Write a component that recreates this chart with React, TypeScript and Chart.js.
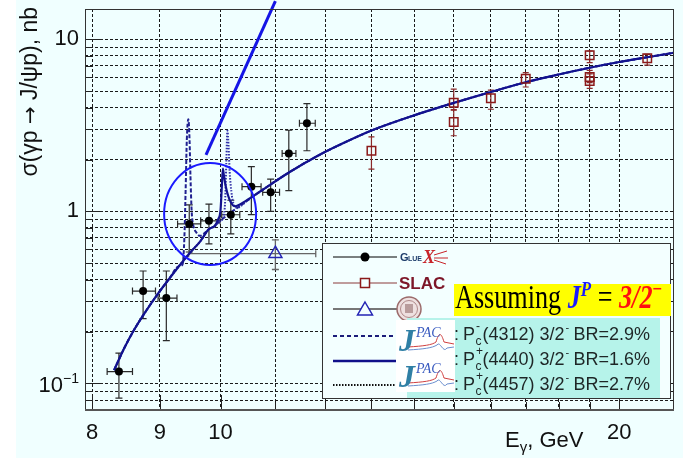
import React, { useEffect, useRef } from 'react';
import { Chart, registerables } from 'chart.js';

Chart.register(...registerables);

const SANS = '"Liberation Sans", Arial, Helvetica, sans-serif';
const SERIF = '"Liberation Serif", "Times New Roman", Times, serif';
const ARROW_FONT = '"DejaVu Sans", "Liberation Sans", sans-serif';
const PAGE_BG = '#f0ffff';

// Log-axis grid values and the ones that carry labels
const xGridValues = [8, 9, 10, 11, 12, 13, 14, 15, 16, 17, 18, 19, 20];
const xLabelValues = [8, 9, 10, 20];
const xMajorValues = [8, 9, 10, 20];
const yGridValues = [0.08, 0.09, 0.1, 0.2, 0.3, 0.4, 0.5, 0.6, 0.7, 0.8, 0.9, 1, 2, 3, 4, 5, 6, 7, 8, 9, 10];
const yLabelValues = [1, 10];
const yMajorValues = [0.1, 1, 10];

// GlueX: Eγ (GeV) with bin edges, σ (nb) with errors
const gluexE = [8.38, 8.74, 9.10, 9.47, 9.80, 10.18, 10.55, 10.91, 11.26, 11.62];
const gluexELo = [8.21, 8.58, 8.97, 9.28, 9.66, 10.02, 10.38, 10.76, 11.13, 11.47];
const gluexEHi = [8.58, 8.93, 9.27, 9.66, 9.99, 10.34, 10.73, 11.08, 11.40, 11.79];
const gluexSigma = [0.117, 0.344, 0.313, 0.845, 0.88, 0.955, 1.39, 1.29, 2.17, 3.25];
const gluexSigmaLo = [0.082, 0.238, 0.177, 0.58, 0.647, 0.74, 0.957, 1.0, 1.32, 2.25];
const gluexSigmaHi = [0.150, 0.45, 0.45, 1.09, 1.10, 1.16, 1.82, 1.54, 2.96, 4.23];

// SLAC
const slacE = [13.0, 15.0, 15.0, 16.0, 17.0, 19.0, 19.0, 19.0, 21.0];
const slacSigma = [2.25, 4.28, 3.31, 4.54, 5.9, 8.07, 6.03, 5.72, 7.75];
const slacSigmaLo = [1.76, 3.87, 2.75, 3.92, 5.28, 7.31, 5.6, 5.19, 7.08];
const slacSigmaHi = [2.71, 5.13, 3.9, 5.06, 6.4, 8.55, 6.6, 6.3, 8.17];

// Cornell
const cornellE = [11.0];
const cornellELo = [9.46];
const cornellEHi = [11.8];
const cornellSigma = [0.567];
const cornellSigmaLo = [0.459];
const cornellSigmaHi = [0.683];

// JPAC model curves: common near-threshold part
const headE = [8.31, 8.45, 8.60, 8.75, 8.95, 9.15];
const headSigma = [0.1193, 0.158, 0.2034, 0.2518, 0.3246, 0.4073];

// common high-energy part
const tailE = [10.70, 11.27, 11.87, 12.29, 13.0, 14.0, 15.0, 16.0, 17.0, 18.0, 19.0, 20.0, 21.0, 22.0];
const tailSigma = [1.296, 1.687, 2.123, 2.426, 2.948, 3.612, 4.267, 4.942, 5.627, 6.243, 6.836, 7.376, 7.864, 8.353];

// P_c(4440), solid
const pc4440E = [9.35, 9.50, 9.65, 9.80, 9.90, 9.96, 10.00, 10.02, 10.04, 10.06, 10.09, 10.13, 10.18, 10.25, 10.45];
const pc4440Sigma = [0.504, 0.584, 0.667, 0.7885, 0.822, 0.90, 1.02, 1.35, 1.77, 1.60, 1.40, 1.24, 1.13, 1.07, 1.15];

// P_c(4312), dashed
const pc4312E = [9.30, 9.36, 9.39, 9.41, 9.43, 9.455, 9.475, 9.49, 9.51, 9.54, 9.58, 9.65, 9.73, 9.80, 9.90, 10.0, 10.12, 10.25, 10.45];
const pc4312Sigma = [0.48, 0.49, 0.70, 1.3, 2.6, 3.43, 2.6, 1.6, 1.0, 0.82, 0.76, 0.72, 0.75, 0.7885, 0.822, 0.8833, 0.9506, 1.023, 1.138];

// P_c(4457), dotted
const pc4457E = [9.35, 9.50, 9.65, 9.80, 9.90, 10.0, 10.05, 10.08, 10.10, 10.12, 10.14, 10.16, 10.19, 10.23, 10.30, 10.45];
const pc4457Sigma = [0.504, 0.584, 0.667, 0.7885, 0.822, 0.8833, 0.92, 1.15, 1.9, 2.94, 2.4, 1.7, 1.3, 1.1, 1.05, 1.138];

// Highlight pointer and circle around the resonance region
const pointerE = [9.75, 11.0];
const pointerSigma = [2.13, 16.65];
const circleE = 9.82;
const circleSigma = 0.966;

// Legend texts
const pcMasses = ['4312', '4440', '4457'];
const pcCharges = ['-', '+', '+'];
const pcBranching = ['2.9', '1.6', '2.7'];

const pts = (xs: number[], ys: number[]) => xs.map((x, i) => ({ x, y: ys[i] }));

const pageBackground = {
  id: 'pageBackground',
  beforeDraw(chart: any) {
    const { ctx, width, height } = chart;
    ctx.save();
    ctx.fillStyle = '#ffffff';
    ctx.fillRect(0, 0, width, height);
    ctx.fillStyle = PAGE_BG;
    ctx.fillRect(16, 0, width - 16, height);
    ctx.restore();
  },
};

const errorBars = {
  id: 'errorBars',
  beforeDatasetsDraw(chart: any) {
    const { ctx } = chart;
    const xs = chart.scales.x;
    const ys = chart.scales.y;
    chart.data.datasets.forEach((ds: any) => {
      const eb = ds.errorBars;
      if (!eb) return;
      ctx.save();
      ctx.strokeStyle = eb.color;
      ctx.lineWidth = eb.width;
      ds.data.forEach((p: any, i: number) => {
        const px = xs.getPixelForValue(p.x);
        const py = ys.getPixelForValue(p.y);
        const c = eb.cap;
        ctx.beginPath();
        if (eb.yLo) {
          const y1 = ys.getPixelForValue(eb.yLo[i]);
          const y2 = ys.getPixelForValue(eb.yHi[i]);
          ctx.moveTo(px, y1); ctx.lineTo(px, y2);
          ctx.moveTo(px - c, y1); ctx.lineTo(px + c, y1);
          ctx.moveTo(px - c, y2); ctx.lineTo(px + c, y2);
        }
        if (eb.xLo) {
          const x1 = xs.getPixelForValue(eb.xLo[i]);
          const x2 = xs.getPixelForValue(eb.xHi[i]);
          ctx.moveTo(x1, py); ctx.lineTo(x2, py);
          ctx.moveTo(x1, py - c); ctx.lineTo(x1, py + c);
          ctx.moveTo(x2, py - c); ctx.lineTo(x2, py + c);
        }
        ctx.stroke();
      });
      ctx.restore();
    });
  },
};

const frameAndTitles = {
  id: 'frameAndTitles',
  afterDatasetsDraw(chart: any) {
    const { ctx, chartArea: a } = chart;
    const xs = chart.scales.x;
    const ys = chart.scales.y;
    ctx.save();
    // inner ticks
    ctx.strokeStyle = '#222';
    ctx.lineWidth = 1;
    ctx.setLineDash([]);
    ctx.beginPath();
    yGridValues.forEach((v) => {
      const y = Math.round(ys.getPixelForValue(v)) + 0.5;
      const len = yMajorValues.includes(v) ? 18 : 8;
      ctx.moveTo(a.left, y); ctx.lineTo(a.left + len, y);
    });
    xGridValues.forEach((v) => {
      const x = Math.round(xs.getPixelForValue(v)) + 0.5;
      const len = xMajorValues.includes(v) ? 15 : 8;
      ctx.moveTo(x, a.bottom); ctx.lineTo(x, a.bottom - len);
    });
    ctx.stroke();
    // frame
    ctx.strokeStyle = '#333';
    ctx.lineWidth = 1;
    ctx.strokeRect(a.left + 0.5, a.top + 0.5, a.right - a.left - 1, a.bottom - a.top);
    ctx.strokeStyle = '#555';
    ctx.lineWidth = 2;
    ctx.beginPath();
    ctx.moveTo(a.left, a.bottom); ctx.lineTo(a.right, a.bottom);
    ctx.stroke();

    // highlight circle
    const cx = xs.getPixelForValue(circleE);
    const cy = ys.getPixelForValue(circleSigma);
    ctx.strokeStyle = '#1a1aff';
    ctx.lineWidth = 2;
    ctx.beginPath();
    ctx.ellipse(cx, cy, 46, 51, 0, 0, Math.PI * 2);
    ctx.stroke();

    // 10^-1 label
    const y01 = ys.getPixelForValue(0.1);
    ctx.fillStyle = '#111';
    ctx.font = `22px ${SANS}`;
    ctx.textAlign = 'right';
    ctx.textBaseline = 'alphabetic';
    ctx.fillText('10', 63, y01 + 9);
    ctx.font = `14px ${SANS}`;
    ctx.textAlign = 'left';
    ctx.fillText('\u22121', 63, y01 - 0);

    // y title, written bottom-to-top and ending near the top edge
    ctx.save();
    ctx.translate(37, 7);
    ctx.rotate(-Math.PI / 2);
    ctx.textAlign = 'left';
    const titleParts = [
      { t: '\u03c3(\u03b3p ', f: `23px ${SANS}` },
      { t: '\u2192', f: `21px ${ARROW_FONT}` },
      { t: ' J/\u03c8p), nb', f: `23px ${SANS}` },
    ];
    let total = 0;
    titleParts.forEach((p) => { ctx.font = p.f; total += ctx.measureText(p.t).width; });
    let tpos = -total;
    titleParts.forEach((p) => {
      ctx.font = p.f;
      ctx.fillText(p.t, tpos, 0);
      tpos += ctx.measureText(p.t).width;
    });
    ctx.restore();

    // x title
    ctx.textAlign = 'left';
    ctx.font = `22px ${SANS}`;
    let tx = 505;
    ctx.fillText('E', tx, 447);
    tx += ctx.measureText('E').width;
    ctx.font = `15px ${SANS}`;
    ctx.fillText('\u03b3', tx, 452);
    tx += ctx.measureText('\u03b3').width;
    ctx.font = `22px ${SANS}`;
    ctx.fillText(', GeV', tx, 447);
    ctx.restore();
  },
};

function legendLine(ctx: any, y: number, color: string, width: number, dash: number[]) {
  ctx.save();
  ctx.strokeStyle = color;
  ctx.lineWidth = width;
  ctx.setLineDash(dash);
  ctx.beginPath();
  ctx.moveTo(333, y); ctx.lineTo(397, y);
  ctx.stroke();
  ctx.restore();
}

function drawJpacLogo(ctx: any, x: number, y: number) {
  ctx.save();
  ctx.fillStyle = '#ffffff';
  ctx.fillRect(x, y, 59, 36);
  // curves
  ctx.lineWidth = 1;
  ctx.strokeStyle = '#d04040';
  ctx.beginPath();
  ctx.moveTo(x + 12, y + 27);
  ctx.bezierCurveTo(x + 28, y + 26, x + 36, y + 25, x + 40, y + 22);
  ctx.bezierCurveTo(x + 43, y + 12, x + 45, y + 12, x + 48, y + 22);
  ctx.lineTo(x + 58, y + 24);
  ctx.stroke();
  ctx.strokeStyle = '#6a8fcf';
  ctx.beginPath();
  ctx.moveTo(x + 12, y + 30);
  ctx.bezierCurveTo(x + 28, y + 29, x + 36, y + 28, x + 41, y + 25);
  ctx.bezierCurveTo(x + 44, y + 20, x + 47, y + 34, x + 51, y + 28);
  ctx.lineTo(x + 58, y + 27);
  ctx.stroke();
  ctx.fillStyle = '#2f7fa5';
  ctx.font = `italic bold 32px ${SERIF}`;
  ctx.fillText('J', x + 3, y + 31);
  ctx.fillStyle = '#3b5cc0';
  ctx.font = `italic 14px ${SERIF}`;
  ctx.fillText('PAC', x + 20, y + 17);
  ctx.restore();
}

const legendPanel = {
  id: 'legendPanel',
  afterDraw(chart: any) {
    const { ctx } = chart;
    ctx.save();
    ctx.textAlign = 'left';
    ctx.textBaseline = 'alphabetic';
    // box
    ctx.fillStyle = '#f3ffff';
    ctx.fillRect(322, 243, 348, 155);
    ctx.strokeStyle = '#333';
    ctx.lineWidth = 1;
    ctx.strokeRect(322.5, 243.5, 348, 155);

    const rows = [257, 283, 309, 336, 361, 385];
    // GlueX row
    legendLine(ctx, rows[0], '#000', 1, []);
    ctx.fillStyle = '#000';
    ctx.beginPath(); ctx.arc(365, rows[0], 4.5, 0, Math.PI * 2); ctx.fill();
    ctx.fillStyle = '#1d3d6b';
    ctx.font = `bold 11px ${SANS}`;
    ctx.fillText('G', 400, rows[0] + 4);
    ctx.font = `bold 7px ${SANS}`;
    ctx.fillText('LUE', 408, rows[0] + 4);
    ctx.fillStyle = '#c8242a';
    ctx.font = `italic bold 18px ${SERIF}`;
    ctx.fillText('X', 423, rows[0] + 6);
    ctx.strokeStyle = '#c8242a';
    ctx.lineWidth = 1;
    ctx.beginPath();
    ctx.moveTo(434, rows[0] - 2); ctx.lineTo(447, rows[0] - 6);
    ctx.moveTo(434, rows[0] + 1); ctx.lineTo(448, rows[0] + 1);
    ctx.moveTo(434, rows[0] + 3); ctx.lineTo(446, rows[0] + 7);
    ctx.stroke();

    // SLAC row
    legendLine(ctx, rows[1], '#8b3a3a', 1, []);
    ctx.strokeStyle = '#8b1a1a';
    ctx.lineWidth = 1.5;
    ctx.fillStyle = '#f3ffff';
    ctx.fillRect(360.5, rows[1] - 4.5, 9, 9);
    ctx.strokeRect(360.5, rows[1] - 4.5, 9, 9);
    ctx.fillStyle = '#7d1628';
    ctx.font = `bold 17px ${SANS}`;
    ctx.fillText('SLAC', 399, rows[1] + 6);

    // Cornell row
    legendLine(ctx, rows[2], '#777', 2, []);
    ctx.strokeStyle = '#2525b5';
    ctx.lineWidth = 1.5;
    ctx.fillStyle = '#f3ffff';
    ctx.beginPath();
    ctx.moveTo(365, rows[2] - 7);
    ctx.lineTo(372.5, rows[2] + 6);
    ctx.lineTo(357.5, rows[2] + 6);
    ctx.closePath();
    ctx.fill();
    ctx.stroke();
    // seal
    ctx.fillStyle = '#eee0e0';
    ctx.strokeStyle = '#9b6b6b';
    ctx.lineWidth = 1.5;
    ctx.beginPath(); ctx.arc(409, rows[2], 12, 0, Math.PI * 2); ctx.fill(); ctx.stroke();
    ctx.lineWidth = 1;
    ctx.strokeStyle = '#b08a8a';
    ctx.beginPath(); ctx.arc(409, rows[2], 8.5, 0, Math.PI * 2); ctx.stroke();
    ctx.fillStyle = '#b99c9c';
    ctx.fillRect(405, rows[2] - 5, 8, 9);

    // model rows
    ctx.fillStyle = '#b6f3ea';
    ctx.fillRect(407, 318, 253, 80);
    legendLine(ctx, rows[3], '#1c1c7a', 2, [4, 3]);
    legendLine(ctx, rows[4], '#10108a', 2.5, []);
    legendLine(ctx, rows[5], '#111', 2, [1.5, 1.5]);
    drawJpacLogo(ctx, 396, 320);
    drawJpacLogo(ctx, 396, 356);

    const baselines = [340, 365, 390];
    baselines.forEach((b, i) => {
      ctx.fillStyle = '#1e2626';
      ctx.font = `18px ${SANS}`;
      ctx.fillText(':', 454, b);
      let cx = 463;
      ctx.fillText('P', cx, b);
      cx += ctx.measureText('P').width;
      ctx.font = `12px ${SANS}`;
      ctx.fillText('c', cx + 0.5, b + 5);
      ctx.fillText(pcCharges[i], cx + 1, b - 10);
      cx += ctx.measureText('c').width + 1.5;
      ctx.font = `18px ${SANS}`;
      const t1 = `(${pcMasses[i]}) 3/2`;
      ctx.fillText(t1, cx, b);
      cx += ctx.measureText(t1).width;
      ctx.font = `11px ${SANS}`;
      ctx.fillText('-', cx + 1, b - 9);
      cx += 4;
      ctx.font = `18px ${SANS}`;
      ctx.fillText(` BR=${pcBranching[i]}%`, cx, b);
    });

    // spin-parity banner
    ctx.fillStyle = '#ffff00';
    ctx.fillRect(454, 284, 217, 32);
    ctx.save();
    ctx.translate(455, 308);
    ctx.scale(0.77, 1);
    let bx = 0;
    const part = (text: string, font: string, color: string, dy: number) => {
      ctx.font = font;
      ctx.fillStyle = color;
      ctx.fillText(text, bx, dy);
      bx += ctx.measureText(text).width;
    };
    part('Assuming ', `34px ${SERIF}`, '#000', 0);
    part('J', `italic bold 34px ${SERIF}`, '#1a1aff', 0);
    part('P', `italic bold 22px ${SERIF}`, '#1a1aff', -12);
    part(' = ', `34px ${SERIF}`, '#000', 0);
    part('3/2', `italic bold 34px ${SERIF}`, '#ff1010', 0);
    part('\u2212', `bold 22px ${SERIF}`, '#ff1010', -12);
    ctx.restore();

    ctx.restore();
  },
};

export default function App() {
  const ref = useRef<HTMLCanvasElement>(null);

  useEffect(() => {
    const canvas = ref.current;
    if (!canvas) return;
    const curve = (xs: number[], ys: number[], color: string, width: number, dash: number[], order: number) => ({
      type: 'scatter' as const,
      data: pts(headE.concat(xs, tailE), headSigma.concat(ys, tailSigma)),
      showLine: true,
      borderColor: color,
      borderWidth: width,
      borderDash: dash,
      pointRadius: 0,
      fill: false,
      cubicInterpolationMode: 'monotone' as const,
      order,
    });
    const noPadding = (axis: any) => {
      axis.paddingTop = 0;
      axis.paddingBottom = 0;
      axis.paddingLeft = 0;
      axis.paddingRight = 0;
    };

    const chart = new Chart(canvas, {
      type: 'scatter',
      data: {
        datasets: [
          {
            label: 'GlueX',
            data: pts(gluexE, gluexSigma),
            pointStyle: 'circle',
            pointRadius: 4,
            backgroundColor: '#000',
            borderColor: '#000',
            borderWidth: 0,
            order: 0,
            errorBars: { xLo: gluexELo, xHi: gluexEHi, yLo: gluexSigmaLo, yHi: gluexSigmaHi, color: '#2a2a2a', width: 1.2, cap: 3.5 },
          } as any,
          {
            label: 'Cornell',
            data: pts(cornellE, cornellSigma),
            pointStyle: 'triangle',
            pointRadius: 7.5,
            backgroundColor: 'rgba(0,0,0,0)',
            borderColor: '#2525b5',
            borderWidth: 1.5,
            order: 1,
            errorBars: { xLo: cornellELo, xHi: cornellEHi, yLo: cornellSigmaLo, yHi: cornellSigmaHi, color: '#666', width: 1.3, cap: 3.5 },
          } as any,
          {
            label: 'SLAC',
            data: pts(slacE, slacSigma),
            pointStyle: 'rect',
            pointRadius: 6,
            backgroundColor: 'rgba(0,0,0,0)',
            borderColor: '#8b1a1a',
            borderWidth: 1.5,
            order: 2,
            errorBars: { yLo: slacSigmaLo, yHi: slacSigmaHi, color: '#8b2a2a', width: 1.2, cap: 3 },
          } as any,
          curve(pc4440E, pc4440Sigma, '#12128e', 2.2, [], 3),
          curve(pc4457E, pc4457Sigma, '#3232a8', 2, [1.5, 1.5], 4),
          curve(pc4312E, pc4312Sigma, '#202090', 2, [4, 2], 5),
          {
            label: 'pointer',
            data: pts(pointerE, pointerSigma),
            showLine: true,
            borderColor: '#1515e6',
            borderWidth: 3,
            pointRadius: 0,
            clip: false,
            order: 6,
          } as any,
        ],
      },
      options: {
        animation: false,
        responsive: false,
        devicePixelRatio: 1,
        events: [],
        layout: { padding: { top: 8, right: 6, left: 0, bottom: 0 } },
        plugins: { legend: { display: false }, tooltip: { enabled: false }, title: { display: false } },
        scales: {
          x: {
            type: 'logarithmic',
            min: 7.9,
            max: 22,
            afterBuildTicks: (axis: any) => {
              axis.ticks = xGridValues.map((v) => ({ value: v }));
            },
            afterFit: (axis: any) => {
              axis.height = 48;
              noPadding(axis);
            },
            ticks: {
              autoSkip: false,
              maxRotation: 0,
              minRotation: 0,
              padding: 10,
              color: '#111',
              font: { family: SANS, size: 22 },
              callback: (v: any) => (xLabelValues.includes(Number(v)) ? String(v) : ''),
            },
            grid: { color: '#1a1a1a', lineWidth: 1, drawTicks: false },
            border: { display: false, dash: [3, 2] },
          },
          y: {
            type: 'logarithmic',
            min: 0.07,
            max: 15,
            afterBuildTicks: (axis: any) => {
              axis.ticks = yGridValues.map((v) => ({ value: v }));
            },
            afterFit: (axis: any) => {
              axis.width = 85;
              noPadding(axis);
            },
            ticks: {
              autoSkip: false,
              padding: 6,
              color: '#111',
              font: { family: SANS, size: 22 },
              callback: (v: any) => (yLabelValues.includes(Number(v)) ? String(v) : ''),
            },
            grid: { color: '#1a1a1a', lineWidth: 1, drawTicks: false },
            border: { display: false, dash: [3, 2] },
          },
        },
      } as any,
      plugins: [pageBackground, errorBars, frameAndTitles, legendPanel],
    });
    return () => chart.destroy();
  }, []);

  return (
    <div style={{ position: 'fixed', left: 0, top: 0, width: 683, height: 458 }}>
      <canvas ref={ref} width={683} height={458} style={{ width: 683, height: 458, display: 'block' }} />
    </div>
  );
}
